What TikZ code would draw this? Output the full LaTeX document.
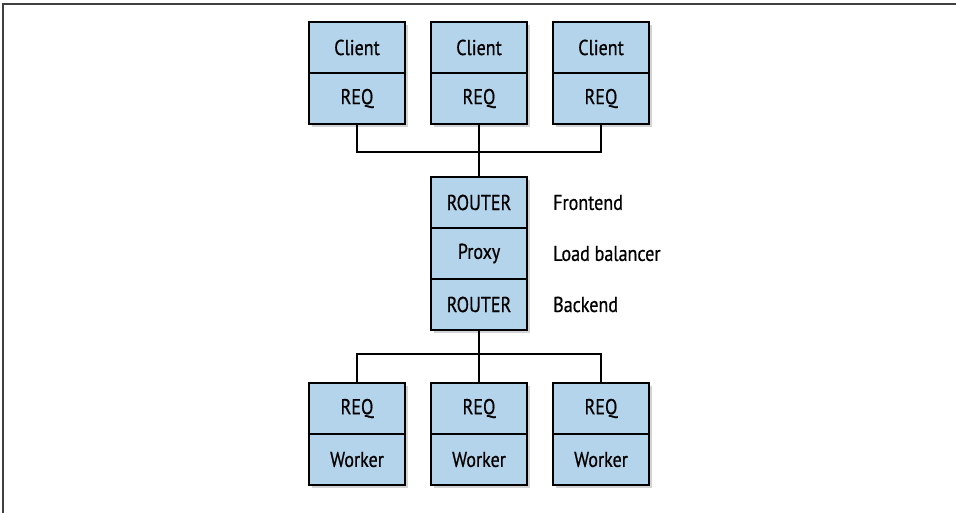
\documentclass[tikz,border=0pt]{standalone}
\usepackage{fontspec}
\setmainfont{PT Sans}[FakeStretch=0.84, FakeBold=0.6]
\usepackage{xcolor}
\usepackage{tikz}
\usetikzlibrary{positioning, shadows}
\definecolor{cellblue}{HTML}{B3D4EA}
\tikzset{
  cell/.style={draw=black, line width=2.6pt, fill=cellblue, minimum width=96pt,
    minimum height=51pt, inner sep=0pt, outer sep=0pt,
    font=\fontsize{21.5}{24}\selectfont,
    drop shadow={opacity=0.35, shadow xshift=2.5pt, shadow yshift=-3pt}},
  lbl/.style={anchor=west, inner sep=0pt, font=\fontsize{21.5}{24}\selectfont},
  wire/.style={line width=2.4pt, line join=miter}
}

\begin{document}
\begin{tikzpicture}[x=1pt, y=-1pt, node distance=0pt]
  \useasboundingbox (0,0) rectangle (956,513);
  \draw[line width=1.5pt, black!75] (3,513) -- (3,4) -- (956,4);
  %% clients
  \node[cell] (c1) at (357,47.5) {Client};
  \node[cell] (c2) at (479,47.5) {Client};
  \node[cell] (c3) at (601,47.5) {Client};
  \node[cell, below=of c1] (r1) {REQ};
  \node[cell, below=of c2] (r2) {REQ};
  \node[cell, below=of c3] (r3) {REQ};
  %% the proxy stack
  \node[cell] (fe) at (479,202.5) {ROUTER};
  \node[cell, below=of fe] (px) {Proxy};
  \node[cell, below=of px] (be) {ROUTER};
  \node[lbl] (tfe) at (553,202.5) {Frontend};
  \node[lbl] (tpx) at (553,253.5) {Load balancer};
  \node[lbl] (tbe) at (553,304.5) {Backend};
  %% workers
  \node[cell] (q1) at (357,408.5) {REQ};
  \node[cell] (q2) at (479,408.5) {REQ};
  \node[cell] (q3) at (601,408.5) {REQ};
  \node[cell, below=of q1] (w1) {Worker};
  \node[cell, below=of q2] (w2) {Worker};
  \node[cell, below=of q3] (w3) {Worker};
  %% wiring
  \draw[wire] (r1.south) -- ++(0,28) -| (fe.north);
  \draw[wire] (r2.south) -- (fe.north);
  \draw[wire] (r3.south) -- ++(0,28) -| (fe.north);
  \draw[wire] (be.south) -- ++(0,24) -| (q1.north);
  \draw[wire] (be.south) -- (q2.north);
  \draw[wire] (be.south) -- ++(0,24) -| (q3.north);
\end{tikzpicture}
\end{document}
